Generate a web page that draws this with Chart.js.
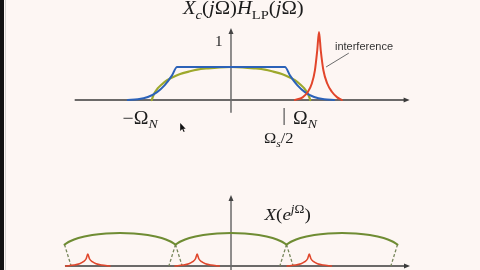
<!DOCTYPE html>
<html><head><meta charset="utf-8">
<script src="https://cdn.jsdelivr.net/npm/chart.js@4.4.1/dist/chart.umd.min.js"></script>
<style>
html,body{margin:0;padding:0;background:#fdf6f3;}
body{width:480px;height:270px;position:relative;overflow:hidden;}
#bar{position:absolute;left:0;top:0;width:4px;height:270px;background:#121212;}
#bar2{position:absolute;left:5px;top:0;width:1px;height:270px;background:#d4d2d0;}
#c1{position:absolute;left:0;top:0;}
#c2{position:absolute;left:0;top:150px;}
</style></head><body>
<div id="bar"></div><div id="bar2"></div>
<canvas id="c1" width="480" height="150"></canvas>
<canvas id="c2" width="480" height="120"></canvas>
<script>
// ---------- DATA (top plot, x in units of Omega_N) ----------
const greenTopX = [-1.03,-1.0,-0.95,-0.9,-0.83,-0.75,-0.66,-0.55,-0.44,-0.3,-0.15,0,0.15,0.3,0.44,0.55,0.66,0.75,0.83,0.9,0.95,1.0,1.03];
const greenTopY = [0,0.18,0.36,0.47,0.6,0.7,0.79,0.86,0.92,0.96,0.99,1,0.99,0.96,0.92,0.86,0.79,0.7,0.6,0.47,0.36,0.18,0];
const blueX = [-1.34,-1.21,-1.08,-0.96,-0.86,-0.77,-0.70,0.70,0.77,0.86,0.96,1.08,1.21,1.34];
const blueY = [0,0.02,0.09,0.24,0.45,0.73,1,1,0.73,0.45,0.24,0.09,0.02,0];
const redTopX = [0.83,0.93,1.0,1.05,1.09,1.12,1.143,1.166,1.20,1.25,1.31,1.38,1.44];
const redTopY = [0,0.08,0.25,0.5,0.9,1.5,2.06,1.5,0.9,0.5,0.25,0.08,0];

// ---------- DATA (bottom plot, x in units of pi) ----------
const arcCenters = [-2,0,2];
const arcOffsets = [-1,-0.9,-0.75,-0.5,-0.25,0,0.25,0.5,0.75,0.9,1];
const arcShape   = [0.65,0.75,0.85,0.94,0.985,1,0.985,0.94,0.85,0.75,0.65];
const peakCenters = [-2.58,-0.61,1.41];
const peakOffsets = [-0.4,-0.25,-0.15,-0.08,-0.03,0,0.03,0.08,0.15,0.25,0.4];
const peakShape   = [0,0.03,0.07,0.13,0.22,0.36,0.22,0.13,0.07,0.03,0];
const tailTopX = [-3,-1,-1,1,1,3];
const tailBotX = [-2.88,-1.12,-0.88,0.88,1.12,2.88];
const tailTopY = 0.65;

// ---------- helpers ----------
const pts = (xs, ys) => xs.map((x,i)=>({x, y: ys[i]}));
const SERIF = '"Liberation Serif","DejaVu Serif",serif';
function fontFor(kind, size){
  const small = kind.startsWith('s') || kind.startsWith('u');
  const s = small ? size*0.7 : size;
  const it = kind.endsWith('i');
  return (it ? 'italic ' : '') + s.toFixed(1) + 'px ' + SERIF;
}
function drawMath(ctx, runs, x, y, size, align, sx){
  sx = sx || 1;
  let w = 0;
  runs.forEach(r=>{ ctx.font = fontFor(r[1], size); w += ctx.measureText(r[0]).width; });
  ctx.save();
  const left = align==='left' ? x : x - w*sx/2;
  ctx.translate(left, y); ctx.scale(sx, 1);
  let cx = 0;
  ctx.textBaseline = 'alphabetic'; ctx.textAlign = 'left';
  runs.forEach(r=>{
    ctx.font = fontFor(r[1], size);
    let dy = 0;
    if (r[1].startsWith('s')) dy = size*0.25;
    if (r[1].startsWith('u')) dy = -size*0.42;
    ctx.fillText(r[0], cx, dy);
    cx += ctx.measureText(r[0]).width;
  });
  ctx.restore();
}
function arrowHead(ctx, x, y, dir){
  ctx.beginPath();
  if (dir==='right'){ ctx.moveTo(x,y); ctx.lineTo(x-6,y-2.5); ctx.lineTo(x-6,y+2.5); }
  else { ctx.moveTo(x,y); ctx.lineTo(x-2.5,y+6); ctx.lineTo(x+2.5,y+6); }
  ctx.closePath(); ctx.fill();
}

const slidePlugin = {
  id: 'slide',
  beforeDatasetsDraw(chart, args, o){
    const ctx = chart.ctx, xs = chart.scales.x, ys = chart.scales.y;
    ctx.save();
    const y0 = ys.getPixelForValue(0);
    const xa = xs.getPixelForValue(o.xAxis[0]), xb = xs.getPixelForValue(o.xAxis[1]);
    ctx.strokeStyle = '#3a3a3a'; ctx.fillStyle = '#3a3a3a'; ctx.lineWidth = 1.3;
    ctx.beginPath(); ctx.moveTo(xa, y0); ctx.lineTo(xb-3, y0); ctx.stroke();
    arrowHead(ctx, xb, y0, 'right');
    const x0 = xs.getPixelForValue(0);
    const ya = ys.getPixelForValue(o.yAxis[0]), yb = ys.getPixelForValue(o.yAxis[1]);
    ctx.strokeStyle = '#6a6a6a'; ctx.fillStyle = '#444'; ctx.lineWidth = 1.5;
    ctx.beginPath(); ctx.moveTo(x0, ya); ctx.lineTo(x0, yb+3); ctx.stroke();
    arrowHead(ctx, x0, yb, 'up');
    ctx.restore();
  },
  afterDraw(chart, args, o){
    const ctx = chart.ctx, xs = chart.scales.x, ys = chart.scales.y;
    ctx.save();
    ctx.fillStyle = '#1c1c1c';
    (o.labels||[]).forEach(l=>{
      drawMath(ctx, l.runs, xs.getPixelForValue(l.x), ys.getPixelForValue(l.y), l.size, l.align||'center', l.sx);
    });
    (o.ticks||[]).forEach(t=>{
      ctx.strokeStyle = '#555'; ctx.lineWidth = 1.2;
      ctx.beginPath();
      ctx.moveTo(xs.getPixelForValue(t.x), ys.getPixelForValue(t.y0));
      ctx.lineTo(xs.getPixelForValue(t.x), ys.getPixelForValue(t.y1));
      ctx.stroke();
    });
    if (o.note){
      const n = o.note;
      ctx.strokeStyle = '#6b6b6b'; ctx.lineWidth = 1;
      ctx.beginPath();
      ctx.moveTo(xs.getPixelForValue(n.from[0]), ys.getPixelForValue(n.from[1]));
      ctx.lineTo(xs.getPixelForValue(n.to[0]), ys.getPixelForValue(n.to[1]));
      ctx.stroke();
      ctx.fillStyle = '#333';
      ctx.font = '11px "Liberation Sans", Arial, sans-serif';
      ctx.textAlign = 'left'; ctx.textBaseline = 'middle';
      ctx.fillText(n.text, xs.getPixelForValue(n.x), ys.getPixelForValue(n.y));
    }
    if (o.cursor){
      const cx = xs.getPixelForValue(o.cursor[0]), cy = ys.getPixelForValue(o.cursor[1]);
      ctx.fillStyle = '#111';
      ctx.beginPath();
      ctx.moveTo(cx, cy); ctx.lineTo(cx, cy+8); ctx.lineTo(cx+2, cy+6);
      ctx.lineTo(cx+3.5, cy+9); ctx.lineTo(cx+4.5, cy+8.5); ctx.lineTo(cx+3.2, cy+5.6); ctx.lineTo(cx+5.5, cy+5.6);
      ctx.closePath(); ctx.fill();
    }
    ctx.restore();
  }
};

const baseLine = {pointRadius:0, fill:false, cubicInterpolationMode:'monotone', borderCapStyle:'round', borderJoinStyle:'round'};

// ---------- top chart ----------
new Chart(document.getElementById('c1'), {
  type: 'line',
  data: { datasets: [
    Object.assign({label:'interference', data: pts(redTopX, redTopY), borderColor:'#e2452b', borderWidth:2, order:0}, baseLine),
    Object.assign({label:'H_LP', data: pts(blueX, blueY), borderColor:'#2c62b8', borderWidth:2, order:1}, baseLine),
    Object.assign({label:'X_c', data: pts(greenTopX, greenTopY), borderColor:'#9da82c', borderWidth:2.2, order:2}, baseLine)
  ]},
  options: {
    responsive:false, animation:false, devicePixelRatio:1,
    layout:{padding:0},
    scales:{
      x:{type:'linear', min:-3.0, max:3.234, display:false},
      y:{type:'linear', min:-1.515, max:3.03, display:false}
    },
    plugins:{
      legend:{display:false}, tooltip:{enabled:false},
      slide:{
        xAxis:[-2.03, 2.32], yAxis:[-0.39, 2.18],
        labels:[
          {runs:[['X','i'],['c','si'],['(','r'],['j','i'],['Ω','r'],[')','r'],['H','i'],['LP','sr'],['(','r'],['j','i'],['Ω','r'],[')','r']], x:0.16, y:2.6, size:18, sx:1.15},
          {runs:[['1','r']], x:-0.16, y:1.65, size:15},
          {runs:[['−Ω','r'],['N','si']], x:-1.18, y:-0.72, size:18, sx:1.1},
          {runs:[['Ω','r'],['N','si']], x:0.96, y:-0.72, size:18, sx:1.1},
          {runs:[['Ω','r'],['s','si'],['/2','r']], x:0.62, y:-1.31, size:15, sx:1.1}
        ],
        ticks:[{x:0.69, y0:-0.24, y1:-0.76}],
        note:{text:'interference', x:1.35, y:1.6, from:[1.53,1.42], to:[1.235,1.0]},
        cursor:[-0.66,-0.7]
      }
    }
  },
  plugins:[slidePlugin]
});

// ---------- bottom chart ----------
const arcSets = arcCenters.map(c => Object.assign({
  data: arcOffsets.map((d,i)=>({x:c+d, y:arcShape[i]})), borderColor:'#6f8c33', borderWidth:2, order:2}, baseLine));
const peakSets = peakCenters.map(c => Object.assign({
  data: peakOffsets.map((d,i)=>({x:c+d, y:peakShape[i]})), borderColor:'#e0472c', borderWidth:1.6, order:1}, baseLine));
const tailData = [];
tailTopX.forEach((x,i)=>{ tailData.push({x, y:tailTopY}); tailData.push({x:tailBotX[i], y:0}); tailData.push({x:tailBotX[i], y:null}); });
const tailSet = {data: tailData, borderColor:'#76865a', borderWidth:1.3, borderDash:[3,2], pointRadius:0, tension:0, spanGaps:false, order:3};

new Chart(document.getElementById('c2'), {
  type: 'line',
  data: { datasets: [...peakSets, ...arcSets, tailSet] },
  options: {
    responsive:false, animation:false, devicePixelRatio:1,
    layout:{padding:0},
    scales:{
      x:{type:'linear', min:-4.162, max:4.486, display:false},
      y:{type:'linear', min:-0.121, max:3.515, display:false}
    },
    plugins:{
      legend:{display:false}, tooltip:{enabled:false},
      slide:{
        xAxis:[-2.99, 3.225], yAxis:[-0.3, 2.15],
        labels:[
          {runs:[['X','i'],['(','r'],['e','i'],['j','ui'],['Ω','ur'],[')','r']], x:1.02, y:1.39, size:17, sx:1.12},
          {runs:[['−π','r']], x:-0.97, y:-0.36, size:15},
          {runs:[['π','r']], x:0.94, y:-0.36, size:15}
        ]
      }
    }
  },
  plugins:[slidePlugin]
});
</script>
</body></html>
